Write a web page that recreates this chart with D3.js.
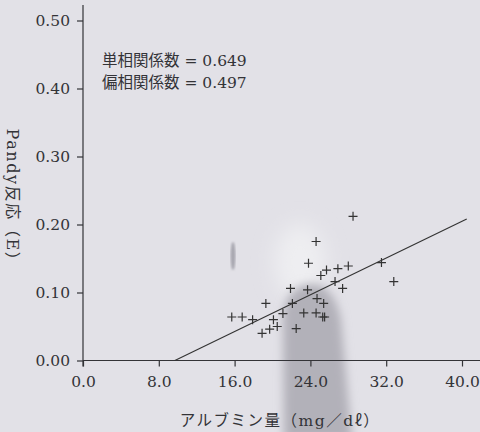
<!DOCTYPE html>
<html>
<head>
<meta charset="utf-8">
<script src="https://cdn.jsdelivr.net/npm/d3@7/dist/d3.min.js"></script>
<style>
  body { margin: 0; background: #e3e2e8; }
  svg { display: block; }
</style>
</head>
<body>
<div id="chart"></div>
<script>
// albumin (mg/dl) vs Pandy reaction (E)
var albumin = [15.7, 16.8, 17.9, 18.9, 19.3, 19.7, 20.1, 20.5, 21.1, 21.9,
               22.1, 22.5, 23.3, 23.7, 23.8, 24.6, 24.6, 24.7, 25.1, 25.3,
               25.4, 25.5, 25.7, 26.6, 26.9, 27.4, 28.0, 28.5, 31.5, 32.8];
var pandy = [0.064, 0.064, 0.060, 0.040, 0.084, 0.046, 0.060, 0.050, 0.069, 0.106,
             0.084, 0.047, 0.070, 0.104, 0.143, 0.175, 0.070, 0.091, 0.125, 0.064,
             0.084, 0.064, 0.133, 0.116, 0.135, 0.106, 0.139, 0.212, 0.144, 0.116];
var fitX = [9.7, 40.5];
var fitY = [0, 0.208];
var xTicks = [0, 8, 16, 24, 32, 40];
var yTicks = [0, 0.1, 0.2, 0.3, 0.4, 0.5];
var notes = ["単相関係数 = 0.649", "偏相関係数 = 0.497"];

var W = 480, H = 432;
var ink = "#333337";
var numFont = "'DejaVu Serif', 'Liberation Serif', serif";
var jpFont = "'DejaVu Serif', 'Noto Sans CJK JP', serif";

var svg = d3.select("#chart").append("svg")
    .attr("width", W).attr("height", H);

// scanned-paper shading
var defs = svg.append("defs");
defs.append("filter").attr("id", "blur").attr("x", "-50%").attr("y", "-50%")
    .attr("width", "200%").attr("height", "200%")
  .append("feGaussianBlur").attr("stdDeviation", 5);
defs.append("filter").attr("id", "soft").attr("x", "-50%").attr("y", "-50%")
    .attr("width", "200%").attr("height", "200%")
  .append("feGaussianBlur").attr("stdDeviation", 10);
defs.append("filter").attr("id", "blur2")
  .append("feGaussianBlur").attr("stdDeviation", 1.2);
svg.append("rect").attr("width", W).attr("height", H).attr("fill", "#e2e1e7");
svg.append("ellipse").attr("cx", 300).attr("cy", 262).attr("rx", 26).attr("ry", 38)
    .attr("fill", "#eeeef1").attr("filter", "url(#soft)");
svg.append("path")
    .attr("d", "M284,440 L283,318 C284,296 296,284 312,284 C328,284 337,300 341,320 L352,440 Z")
    .attr("fill", "#b2b1b9").attr("filter", "url(#blur)");
svg.append("ellipse").attr("cx", 233).attr("cy", 256).attr("rx", 2.5).attr("ry", 14)
    .attr("fill", "#a8a7b0").attr("filter", "url(#blur2)");

var x = d3.scaleLinear().domain([0, 40]).range([83, 462]);
var y = d3.scaleLinear().domain([0, 0.5]).range([360.5, 20.5]);

var gx = svg.append("g").attr("transform", "translate(0," + y(0) + ")")
    .call(d3.axisBottom(x).tickValues(xTicks).tickSize(6).tickPadding(9)
      .tickFormat(d3.format(".1f")));
var gy = svg.append("g").attr("transform", "translate(" + x(0) + ",0)")
    .call(d3.axisLeft(y).tickValues(yTicks).tickSize(6).tickPadding(7)
      .tickFormat(d3.format(".2f")));
[gx, gy].forEach(function (g) {
    g.select(".domain").remove();
    g.selectAll(".tick line").attr("stroke", ink).attr("stroke-width", 1.2);
    g.selectAll(".tick text").attr("fill", ink)
        .style("font-family", numFont).style("font-size", "15.5px");
});

svg.append("line").attr("x1", x(0)).attr("x2", W)
    .attr("y1", y(0)).attr("y2", y(0))
    .attr("stroke", ink).attr("stroke-width", 1.2);
svg.append("line").attr("x1", x(0)).attr("x2", x(0))
    .attr("y1", 5).attr("y2", y(0) + 6)
    .attr("stroke", ink).attr("stroke-width", 1.2);

// regression line
svg.append("line")
    .attr("x1", x(fitX[0])).attr("y1", y(fitY[0]))
    .attr("x2", x(fitX[1])).attr("y2", y(fitY[1]))
    .attr("stroke", "#333").attr("stroke-width", 1.1);

// points
svg.append("g").selectAll("path").data(albumin).join("path")
    .attr("transform", function (d, i) { return "translate(" + x(d) + "," + y(pandy[i]) + ")"; })
    .attr("d", "M-4.5,0H4.5M0,-4.5V4.5")
    .attr("stroke", "#333").attr("stroke-width", 1.2).attr("fill", "none");

// notes
svg.append("g").selectAll("text").data(notes).join("text")
    .attr("x", 102).attr("y", function (d, i) { return 66 + i * 21.5; })
    .attr("fill", ink)
    .style("font-family", jpFont).style("font-size", "15.5px")
    .text(function (d) { return d; });

// axis titles
svg.append("text").attr("x", 280).attr("y", 426)
    .attr("text-anchor", "middle").attr("fill", ink)
    .style("font-family", jpFont).style("font-size", "15.5px")
    .style("letter-spacing", "1.5px")
    .text("アルブミン量（mg／dℓ）");
svg.append("text")
    .attr("transform", "translate(7,199) rotate(90)")
    .attr("text-anchor", "middle").attr("fill", ink)
    .style("font-family", jpFont).style("font-size", "16px")
    .style("letter-spacing", "1.6px")
    .text("Pandy反応（E）");
</script>
</body>
</html>
